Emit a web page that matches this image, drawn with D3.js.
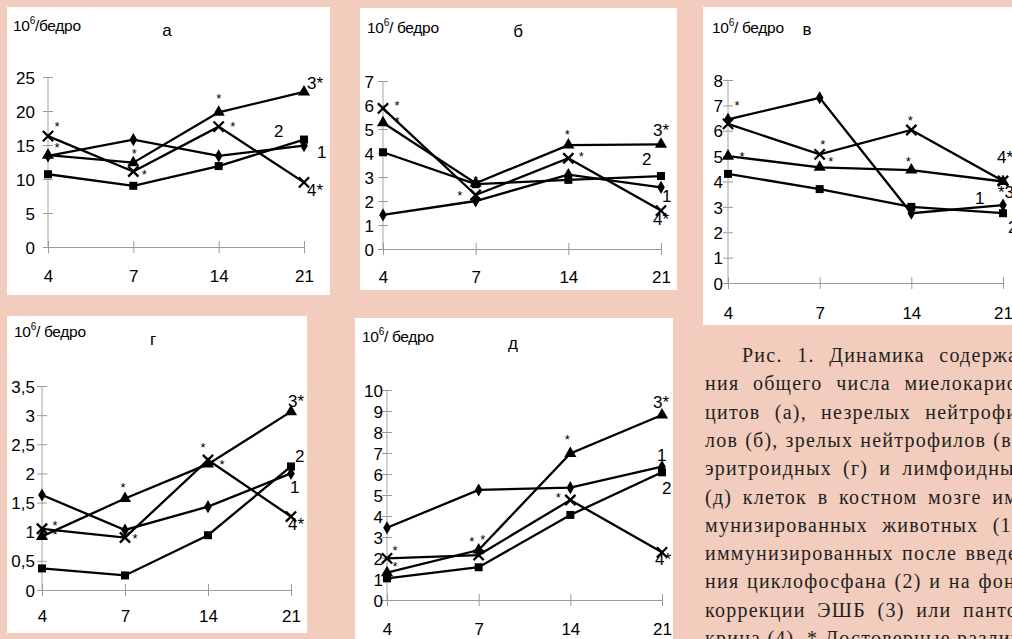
<!DOCTYPE html>
<html>
<head>
<meta charset="utf-8">
<script src="https://cdn.jsdelivr.net/npm/d3@7"></script>
<style>
  html, body { margin: 0; padding: 0; overflow: hidden; background: #f2cdbe; }
  svg { display: block; }
</style>
</head>
<body>
<script>
// days after immunisation (categorical x axis)
const days = ["4", "7", "14", "21"];

// series order: 1 - diamond, 2 - square, 3 - triangle, 4 - cross
const valuesA = [
    [13.4, 15.8, 13.4, 14.9],
    [10.7, 9.0, 11.9, 15.8],
    [13.5, 12.4, 19.8, 22.8],
    [16.3, 11.1, 17.7, 9.5]
];
const valuesB = [
    [1.42, 2.0, 3.1, 2.57],
    [4.03, 2.7, 2.88, 3.04],
    [5.26, 2.74, 4.33, 4.36],
    [5.86, 2.25, 3.78, 1.6]
];
const valuesV = [
    [6.45, 7.3, 2.75, 3.07],
    [4.3, 3.7, 3.0, 2.75],
    [5.0, 4.56, 4.45, 4.0],
    [6.27, 5.07, 6.03, 4.02]
];
const valuesG = [
    [1.63, 1.03, 1.43, 2.0],
    [0.37, 0.25, 0.94, 2.12],
    [0.92, 1.57, 2.16, 3.06],
    [1.05, 0.9, 2.23, 1.26]
];
const valuesD = [
    [3.44, 5.24, 5.35, 6.35],
    [1.03, 1.56, 4.05, 6.08],
    [1.3, 2.38, 6.98, 8.81],
    [1.98, 2.14, 4.76, 2.27]
];

const ticksA = [0, 5, 10, 15, 20, 25];
const ticksB = [0, 1, 2, 3, 4, 5, 6, 7];
const ticksV = [0, 1, 2, 3, 4, 5, 6, 7, 8];
const ticksG = [0, 0.5, 1, 1.5, 2, 2.5, 3, 3.5];
const ticksD = [0, 1, 2, 3, 4, 5, 6, 7, 8, 9, 10];

const panelLetters = ["а", "б", "в", "г", "д"];

const captionLines = [
    "Рис. 1. Динамика содержа-",
    "ния общего числа миелокарио-",
    "цитов (а), незрелых нейтрофи-",
    "лов (б), зрелых нейтрофилов (в),",
    "эритроидных (г) и лимфоидных",
    "(д) клеток в костном мозге им-",
    "мунизированных животных (1),",
    "иммунизированных после введе-",
    "ния циклофосфана (2) и на фоне",
    "коррекции ЭШБ (3) или панто-",
    "крина (4). * Достоверные различия"
];

// annotations: stars [series, day, dx, dy], labels [text, series, dx, dy]
const panels = [
    {
        letter: 0, values: valuesA, ticks: ticksA, unit: "/бедро",
        box: [7, 7, 323, 288], xr: [48, 304], yr: [247, 77],
        yPad: 8, xBase: 35, unitAt: [13, 31], titleAt: [167, 36],
        stars: [[3, 0, 9, -12], [2, 0, 9, -10], [2, 1, 1, -12], [3, 1, 11, 0], [2, 2, 0, -16], [3, 2, 14, -3]],
        labels: [["3*", 2, 3, -9], ["2", 1, -30, -9], ["1", 0, 13, 6], ["4*", 3, 3, 8]]
    },
    {
        letter: 1, values: valuesB, ticks: ticksB, unit: "/ бедро",
        box: [360, 8, 317, 282], xr: [383, 661], yr: [249, 81],
        yPad: 4, xBase: 34, unitAt: [367, 33], titleAt: [518, 37],
        stars: [[3, 0, 14, -5], [2, 0, 14, -4], [3, 1, -16, -2], [2, 1, 0, -5], [2, 2, -1, -13], [3, 2, 13, -4]],
        labels: [["3*", 2, -8, -14], ["2", 1, -19, -17], ["1", 0, 1, 9], ["4*", 3, -8, 8]]
    },
    {
        letter: 2, values: valuesV, ticks: ticksV, unit: "/ бедро",
        box: [703, 7, 330, 318], xr: [728, 1003], yr: [283, 80],
        yPad: 0, xBase: 36, unitAt: [712, 33], titleAt: [807, 35],
        stars: [[0, 0, 9, -16], [2, 0, 14, -2], [3, 1, 3, -12], [3, 1, 11, 5], [3, 2, -1, -12], [2, 2, -3, -11]],
        labels: [["4*", 3, -6, -24], ["*3", 2, -5, 10], ["1", 0, -28, -7], ["2", 1, 5, 14]]
    },
    {
        letter: 3, values: valuesG, ticks: ticksG, unit: "/ бедро",
        box: [7, 316, 300, 317], xr: [42, 291], yr: [590, 386],
        yPad: 2, xBase: 32, unitAt: [14, 337], titleAt: [153, 345],
        stars: [[3, 0, 13, -6], [2, 0, 13, -4], [2, 1, -2, -13], [3, 1, 10, -2], [3, 2, -5, -15], [2, 2, 14, -2]],
        labels: [["3*", 2, -3, -11], ["2", 1, 4, -10], ["1", 0, -1, 14], ["4*", 3, -3, 7]]
    },
    {
        letter: 4, values: valuesD, ticks: ticksD, unit: "/ бедро",
        box: [355, 318, 318, 330], xr: [387, 662], yr: [600, 390],
        yPad: -1, xBase: 35, unitAt: [362, 342], titleAt: [513, 349],
        stars: [[3, 0, 8, -10], [2, 0, 8, -9], [3, 1, -7, -16], [2, 1, 4, -13], [2, 2, -3, -16], [3, 2, -12, -5]],
        labels: [["3*", 2, -9, -13], ["1", 0, -5, -12], ["2", 1, 0, 16], ["4*", 3, -7, 7]]
    }
];

const W = 1012, H = 639;
const sans = "'Liberation Sans', Arial, sans-serif";
const serif = "'Liberation Serif', 'Times New Roman', serif";
const comma = d => String(d).replace(".", ",");

const svg = d3.select("body").append("svg")
    .attr("width", W)
    .attr("height", H);

svg.append("rect")
    .attr("width", W)
    .attr("height", H)
    .attr("fill", "#f2cdbe");

const symbols = [
    d3.symbol(d3.symbolDiamond, 50),
    d3.symbol(d3.symbolSquare, 64),
    d3.symbol(d3.symbolTriangle, 64),
    d3.symbol(d3.symbolX, 70)
];

function drawPanel(p) {
    const g = svg.append("g").attr("font-family", sans);

    g.append("rect")
        .attr("x", p.box[0]).attr("y", p.box[1])
        .attr("width", p.box[2]).attr("height", p.box[3])
        .attr("fill", "#fff");

    const x = d3.scalePoint().domain(days).range(p.xr);
    const yMax = p.ticks[p.ticks.length - 1];
    const y = d3.scaleLinear().domain([0, yMax]).range(p.yr);

    // y axis line (light, a bit wider)
    g.append("line")
        .attr("x1", x(days[0])).attr("x2", x(days[0]))
        .attr("y1", y(0)).attr("y2", y(yMax))
        .attr("stroke", "#d2d2d2")
        .attr("stroke-width", 2);

    const yAxis = g.append("g")
        .attr("transform", "translate(" + x(days[0]) + ",0)")
        .call(d3.axisLeft(y).tickValues(p.ticks).tickSize(5).tickPadding(p.yPad).tickFormat(comma));
    yAxis.select(".domain").remove();
    yAxis.selectAll(".tick line").attr("x1", 5).attr("x2", -5).attr("stroke", "#9a9a9a");
    yAxis.selectAll(".tick text")
        .attr("font-size", 17)
        .attr("font-family", sans)
        .attr("fill", "#000")
        .attr("dy", "0.36em");

    const xAxis = g.append("g")
        .attr("transform", "translate(0," + y(0) + ")")
        .call(d3.axisBottom(x).tickSize(6).tickSizeOuter(0));
    xAxis.select(".domain").attr("stroke", "#9a9a9a");
    xAxis.selectAll(".tick line").attr("y1", -6).attr("y2", 6).attr("stroke", "#9a9a9a");
    xAxis.selectAll(".tick text")
        .attr("font-size", 17)
        .attr("font-family", sans)
        .attr("fill", "#000")
        .attr("y", p.xBase)
        .attr("dy", null);

    // unit label 10^6/бедро
    const unit = g.append("text")
        .attr("x", p.unitAt[0]).attr("y", p.unitAt[1])
        .attr("font-size", 15.5)
        .attr("letter-spacing", -0.3)
        .attr("fill", "#000");
    unit.append("tspan").text("10");
    unit.append("tspan").attr("font-size", 10).attr("dy", -7).text("6");
    unit.append("tspan").attr("dy", 7).text(p.unit);

    g.append("text")
        .attr("x", p.titleAt[0]).attr("y", p.titleAt[1])
        .attr("text-anchor", "middle")
        .attr("font-size", 17)
        .attr("fill", "#000")
        .text(panelLetters[p.letter]);

    const line = d3.line()
        .x((d, i) => x(days[i]))
        .y(d => y(d));

    p.values.forEach(vals => {
        g.append("path")
            .attr("d", line(vals))
            .attr("fill", "none")
            .attr("stroke", "#000")
            .attr("stroke-width", 2.3);
    });

    p.values.forEach((vals, s) => {
        g.selectAll(null)
            .data(vals)
            .enter().append("path")
            .attr("transform", (d, i) => "translate(" + x(days[i]) + "," + y(d) + ")")
            .attr("d", symbols[s]())
            .attr("fill", s === 3 ? "none" : "#000")
            .attr("stroke", "#000")
            .attr("stroke-width", s === 3 ? 2.3 : 0);
    });

    // significance stars
    p.stars.forEach(st => {
        const px = x(days[st[1]]) + st[2];
        const py = y(p.values[st[0]][st[1]]) + st[3];
        g.append("text")
            .attr("x", px).attr("y", py + 7)
            .attr("text-anchor", "middle")
            .attr("font-size", 13)
            .attr("fill", "#000")
            .text("*");
    });

    // series labels
    p.labels.forEach(lb => {
        const px = x(days[3]) + lb[2];
        const py = y(p.values[lb[1]][3]) + lb[3];
        g.append("text")
            .attr("x", px).attr("y", py + 6)
            .attr("font-size", 17)
            .attr("fill", "#000")
            .text(lb[0]);
    });
}

panels.forEach(drawPanel);

// caption, justified line by line
const capLeft = 705, capRight = 1026, capIndent = 37, capTop = 362, capStep = 28.3;
const cap = svg.append("g")
    .attr("font-family", serif)
    .attr("font-size", 20)
    .attr("fill", "#231f20");

// letter spacing chosen so the tightest line ("иммунизированных после введе-") fits with normal spaces
const probe = cap.append("text").text(captionLines[7]);
const probeLen = probe.node().getComputedTextLength();
const tracking = (capRight - capLeft - probeLen - 4) / captionLines[7].length;
probe.remove();
cap.attr("letter-spacing", tracking);

captionLines.forEach((t, i) => {
    const x0 = capLeft + (i === 0 ? capIndent : 0);
    const txt = cap.append("text")
        .attr("x", x0)
        .attr("y", capTop + i * capStep)
        .text(t);
    if (i < captionLines.length - 1) {
        const spaces = (t.match(/ /g) || []).length;
        const natural = txt.node().getComputedTextLength();
        const extra = (capRight - x0 - natural) / spaces;
        txt.attr("word-spacing", extra);
    }
});
</script>
</body>
</html>
